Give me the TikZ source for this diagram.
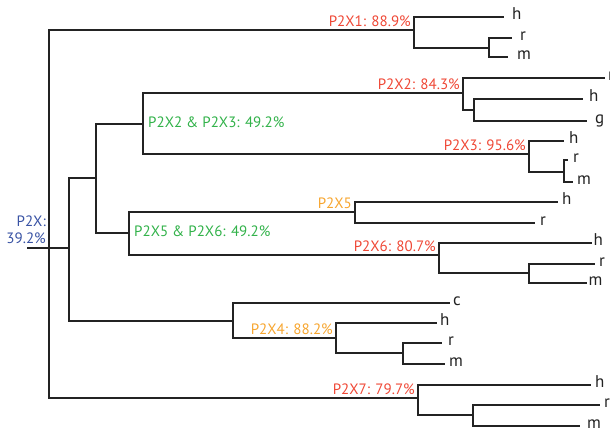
\documentclass[tikz,border=0pt]{standalone}
\usepackage{fontspec}
\setmainfont{PT Sans}
\definecolor{cred}{RGB}{239,72,54}
\definecolor{corange}{RGB}{247,166,48}
\definecolor{cgreen}{RGB}{50,178,74}
\definecolor{cblue}{RGB}{57,83,164}
\definecolor{cline}{RGB}{35,35,35}
\begin{document}
\begin{tikzpicture}[x=1pt,y=-1pt,
  br/.style={draw=cline, line width=1.4pt},
  leaf/.style={anchor=west, inner ysep=0pt, text height=1ex, text depth=0pt,
    font=\fontsize{17}{17}\selectfont, text=cline},
  lg/.style={inner xsep=#1},
  clab/.style={anchor=south east, inner xsep=3pt, inner ysep=3pt, text depth=0pt,
    font=\fontsize{15}{15}\selectfont},
  glab/.style={anchor=west, inner xsep=5pt, inner ysep=0pt, text height=1.4ex,
    text depth=0pt, font=\fontsize{15}{15}\selectfont, text=cgreen},
]
\useasboundingbox (0,0) rectangle (610,432);
% internal nodes
\coordinate (s0) at (27,248);
\coordinate (R) at (49,248);
\coordinate (M) at (69,248);
\coordinate (Q) at (96,178);
\coordinate (G23) at (143,124);
\coordinate (G56) at (129,233);
\coordinate (A1) at (414,30);
\coordinate (B1) at (489,48);
\coordinate (A2) at (463,93);
\coordinate (B2) at (474,110);
\coordinate (A3) at (529,154);
\coordinate (B3) at (564,172);
\coordinate (A5) at (355,212);
\coordinate (A6) at (439,255);
\coordinate (B6) at (529,273);
\coordinate (C4) at (233,321);
\coordinate (A4) at (336,338);
\coordinate (B4) at (403,353);
\coordinate (A7) at (418,398);
\coordinate (B7) at (473,415);
% leaves
\node[leaf,lg=8pt] (l1h) at (504,17) {h};
\node[leaf,lg=8pt] (l1r) at (512,38) {r};
\node[leaf,lg=9pt] (l1m) at (508,57) {m};
\node[leaf,lg=3pt] (l2m) at (605,78) {m};
\node[leaf,lg=6pt] (l2h) at (583,99) {h};
\node[leaf,lg=8pt] (l2g) at (587,121) {g};
\node[leaf,lg=5pt] (l3h) at (564,141) {h};
\node[leaf,lg=5pt] (l3r) at (568,160) {r};
\node[leaf,lg=4pt] (l3m) at (573,182) {m};
\node[leaf,lg=4pt] (l5h) at (558,202) {h};
\node[leaf,lg=5pt] (l5r) at (535,223) {r};
\node[leaf,lg=1.5pt] (l6h) at (592,243) {h};
\node[leaf,lg=4pt] (l6r) at (595,264) {r};
\node[leaf,lg=1.5pt] (l6m) at (587,283) {m};
\node[leaf,lg=3pt] (l4c) at (450,303) {c};
\node[leaf,lg=3pt] (l4h) at (437,323) {h};
\node[leaf,lg=6pt] (l4r) at (442,343) {r};
\node[leaf,lg=4pt] (l4m) at (445,364) {m};
\node[leaf,lg=4pt] (l7h) at (591,385) {h};
\node[leaf,lg=4pt] (l7r) at (600,405) {r};
\node[leaf,lg=7pt] (l7m) at (580,426) {m};
% branches
\draw[br] (s0) -- (M);
\draw[br] (R) |- (A1);
\draw[br] (R) |- (A7);
\draw[br] (M) |- (Q);
\draw[br] (M) |- (C4);
\draw[br] (Q) |- (G23);
\draw[br] (Q) |- (G56);
\draw[br] (G23) |- (A2);
\draw[br] (G23) |- (A3);
\draw[br] (G56) |- (A5);
\draw[br] (G56) |- (A6);
\draw[br] (A1) |- (l1h);
\draw[br] (A1) |- (B1);
\draw[br] (B1) |- (l1r);
\draw[br] (B1) |- (l1m);
\draw[br] (A2) |- (l2m);
\draw[br] (A2) |- (B2);
\draw[br] (B2) |- (l2h);
\draw[br] (B2) |- (l2g);
\draw[br] (A3) |- (l3h);
\draw[br] (A3) |- (B3);
\draw[br] (B3) |- (l3r);
\draw[br] (B3) |- (l3m);
\draw[br] (A5) |- (l5h);
\draw[br] (A5) |- (l5r);
\draw[br] (A6) |- (l6h);
\draw[br] (A6) |- (B6);
\draw[br] (B6) |- (l6r);
\draw[br] (B6) |- (l6m);
\draw[br] (C4) |- (l4c);
\draw[br] (C4) |- (A4);
\draw[br] (A4) |- (l4h);
\draw[br] (A4) |- (B4);
\draw[br] (B4) |- (l4r);
\draw[br] (B4) |- (l4m);
\draw[br] (A7) |- (l7h);
\draw[br] (A7) |- (B7);
\draw[br] (B7) |- (l7r);
\draw[br] (B7) |- (l7m);
% clade labels
\node[clab,text=cred] (t1) at (A1) {P2X1: 88.9\%};
\node[clab,text=cred] (t2) at (A2) {P2X2: 84.3\%};
\node[clab,text=cred] (t3) at (A3) {P2X3: 95.6\%};
\node[clab,text=corange] (t5) at (A5) {P2X5};
\node[clab,text=cred] (t6) at (A6) {P2X6: 80.7\%};
\node[clab,text=corange] (t4) at (A4) {P2X4: 88.2\%};
\node[clab,text=cred] (t7) at (A7) {P2X7: 79.7\%};
\node[glab] (g23) at (G23) {P2X2 \& P2X3: 49.2\%};
\node[glab] (g56) at (G56) {P2X5 \& P2X6: 49.2\%};
\node[anchor=south east, inner xsep=3pt, inner ysep=4pt, align=right, text depth=0pt,
  font=\fontsize{15}{17}\selectfont, text=cblue] (troot) at (R) {P2X:\\39.2\%};
\end{tikzpicture}
\end{document}
